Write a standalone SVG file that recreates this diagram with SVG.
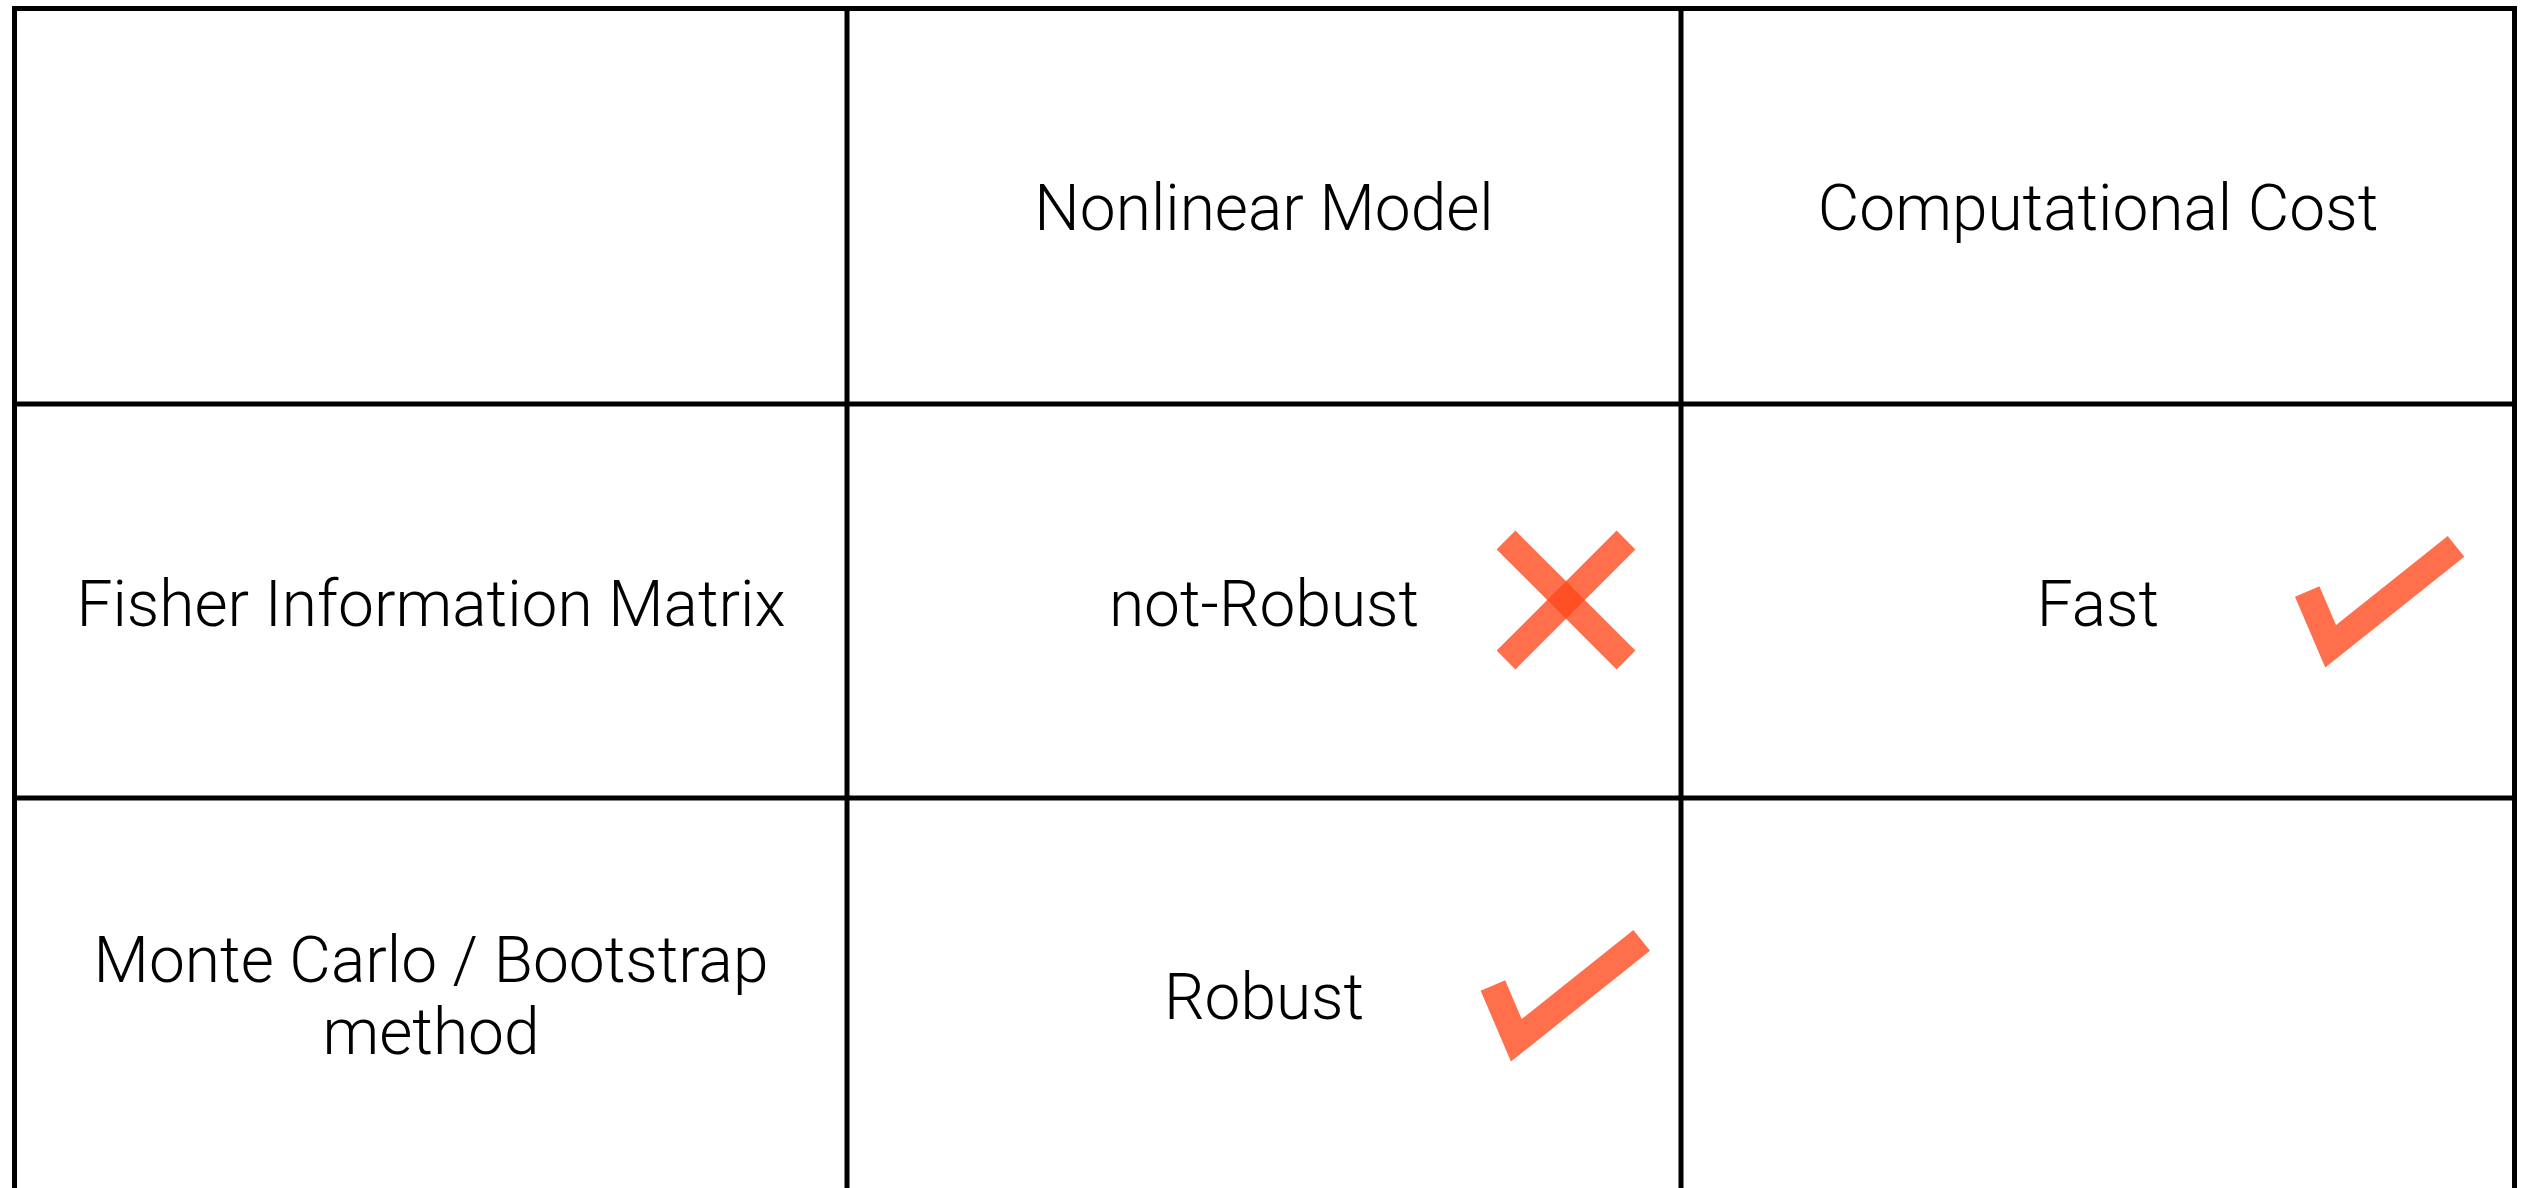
<svg xmlns="http://www.w3.org/2000/svg" width="2528" height="1188" viewBox="0 0 2528 1188">
<defs>
<style>
.grid{stroke:#000;stroke-width:5;fill:none;stroke-linecap:square}
.t{font-family:Roboto,"Liberation Sans",sans-serif;font-weight:300;font-size:64px;fill:#000;text-anchor:middle}
.mark{fill:none;stroke:#ff4619;stroke-opacity:0.78;stroke-width:26.6;stroke-linecap:butt;stroke-linejoin:miter;stroke-miterlimit:10}
</style>
</defs>
<rect width="2528" height="1188" fill="#fff"/>
<g id="connectors">
<path class="grid" d="M14.5 1200 V8.5 H2514.5 V1200"/>
<line class="grid" x1="14.5" y1="404" x2="2514.5" y2="404"/>
<line class="grid" x1="14.5" y1="798" x2="2514.5" y2="798"/>
<line class="grid" x1="847" y1="8.5" x2="847" y2="1200"/>
<line class="grid" x1="1681" y1="8.5" x2="1681" y2="1200"/>
</g>
<g id="header-nonlinear"><text class="t" x="1264" y="230">Nonlinear Model</text></g>
<g id="header-cost"><text class="t" x="2098" y="230">Computational Cost</text></g>
<g id="row-fisher"><text class="t" x="431" y="626">Fisher Information Matrix</text></g>
<g id="fisher-nonlinear"><text class="t" x="1264" y="626">not-Robust</text>
<line class="mark" x1="1506" y1="540" x2="1626" y2="660"/>
<line class="mark" x1="1626" y1="540" x2="1506" y2="660"/>
</g>
<g id="fisher-cost"><text class="t" x="2098" y="626">Fast</text>
<polyline class="mark" points="2307.2,591.5 2330.6,646.3 2456,546.3"/>
</g>
<g id="row-montecarlo"><text class="t" x="431" y="982">Monte Carlo / Bootstrap</text><text class="t" x="431" y="1054">method</text></g>
<g id="montecarlo-nonlinear"><text class="t" x="1264" y="1019">Robust</text>
<polyline class="mark" points="1492.9,985.5 1516.3,1040.3 1641.7,940.3"/>
</g>
<g id="montecarlo-cost"></g>
</svg>
